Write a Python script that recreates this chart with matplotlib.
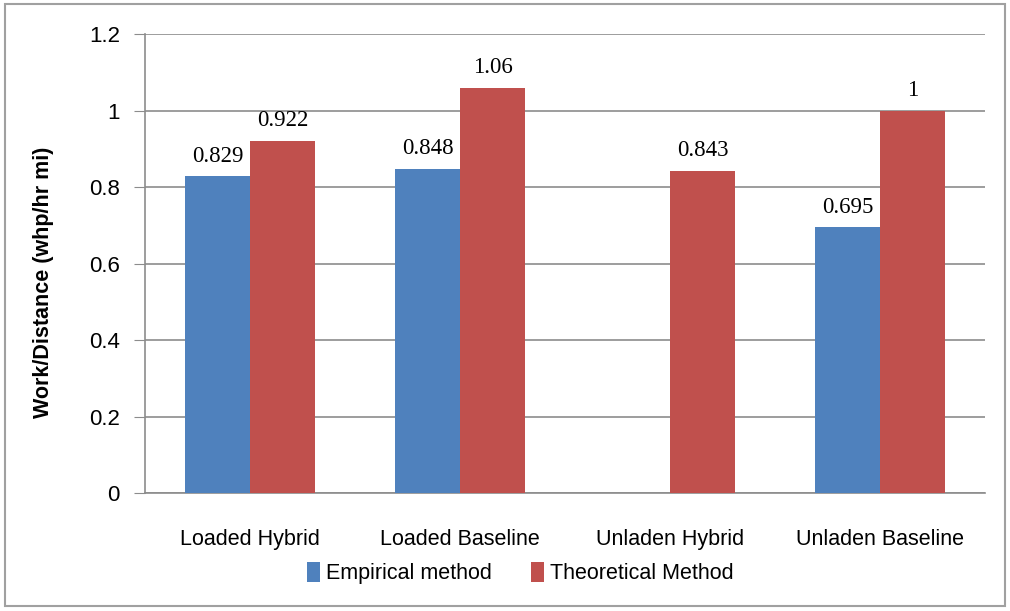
import numpy as np
import matplotlib.pyplot as plt
from matplotlib.patches import Rectangle

# Data
categories = ["Loaded Hybrid", "Loaded Baseline", "Unladen Hybrid", "Unladen Baseline"]
empirical = [0.829, 0.848, np.nan, 0.695]
theoretical = [0.922, 1.06, 0.843, 1.0]
empirical_labels = ["0.829", "0.848", "", "0.695"]
theoretical_labels = ["0.922", "1.06", "0.843", "1"]
y_ticks = [0, 0.2, 0.4, 0.6, 0.8, 1, 1.2]
y_tick_labels = ["0", "0.2", "0.4", "0.6", "0.8", "1", "1.2"]

BLUE = "#4F81BD"
RED = "#C0504D"
GRID = "#8c8c8c"


def main():
    fig = plt.figure(figsize=(10.1, 6.11), dpi=100)
    ax = fig.add_axes([0.1435, 0.193, 0.832, 0.751])

    x = np.arange(len(categories))
    w = 0.31
    ax.bar(x - w / 2, empirical, w, color=BLUE, label="Empirical method", zorder=3)
    ax.bar(x + w / 2, theoretical, w, color=RED, label="Theoretical Method", zorder=3)

    # Data labels
    for i in range(len(categories)):
        if empirical_labels[i]:
            ax.text(x[i] - w / 2, empirical[i] + 0.025, empirical_labels[i],
                    ha="center", va="bottom", fontsize=16.5,
                    family="Liberation Serif", zorder=4)
        ax.text(x[i] + w / 2, theoretical[i] + 0.025, theoretical_labels[i],
                ha="center", va="bottom", fontsize=16.5,
                family="Liberation Serif", zorder=4)

    ax.set_xlim(-0.5, 3.5)
    ax.set_ylim(0, 1.2)
    ax.set_yticks(y_ticks)
    ax.set_yticklabels(y_tick_labels, fontsize=16, family="Liberation Sans")
    ax.set_xticks(x)
    ax.set_xticklabels(categories, fontsize=15.5, family="Liberation Sans")
    ax.tick_params(axis="x", length=0, pad=26)
    ax.tick_params(axis="y", length=8, color=GRID, pad=10)

    ax.yaxis.grid(True, color=GRID, linewidth=1.2, zorder=0)
    ax.set_axisbelow(True)
    for side in ["top", "right"]:
        ax.spines[side].set_visible(False)
    ax.spines["left"].set_color(GRID)
    ax.spines["bottom"].set_color(GRID)
    ax.spines["left"].set_linewidth(1.2)
    ax.spines["bottom"].set_linewidth(1.2)

    ax.set_ylabel("Work/Distance (whp/hr mi)", fontsize=15.5, fontweight="bold",
                  family="Liberation Sans")
    ax.yaxis.set_label_coords(-0.108, 0.46)

    ax.legend(loc="center", bbox_to_anchor=(0.447, -0.175), ncol=2, frameon=False,
              prop={"family": "Liberation Sans", "size": 15.5},
              handlelength=0.6, handleheight=1.0, handletextpad=0.3,
              columnspacing=1.8)

    # Outer chart border
    fig.patches.append(Rectangle((0.005, 0.008), 0.99, 0.985, transform=fig.transFigure,
                                 fill=False, edgecolor="#a0a0a0", linewidth=1.5))

    fig.savefig("out.png", dpi=100)


if __name__ == "__main__":
    main()
